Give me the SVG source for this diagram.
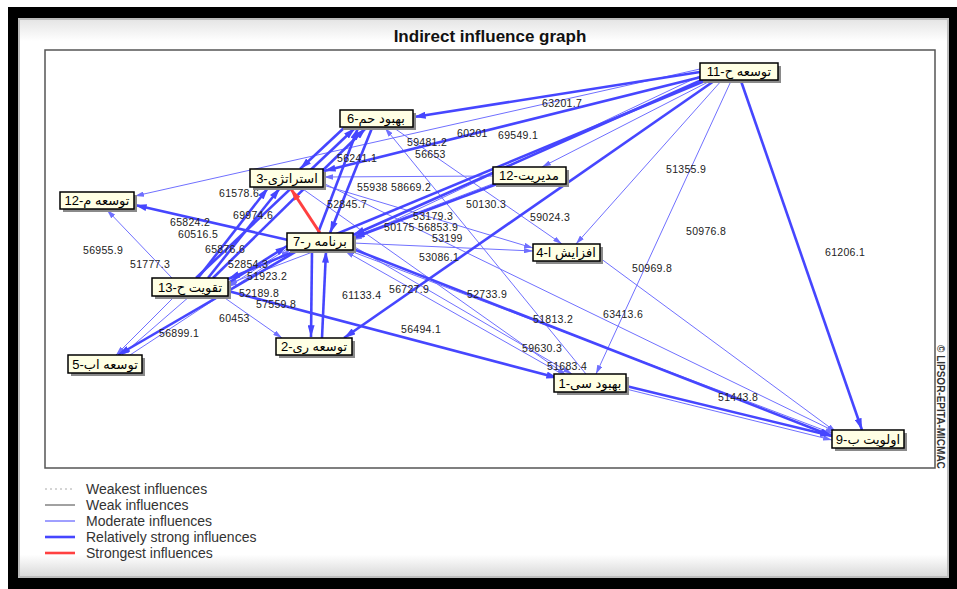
<svg xmlns="http://www.w3.org/2000/svg" width="957" height="589" viewBox="0 0 957 589">
<style>
.m{stroke:#7070ff;stroke-width:1;fill:none;marker-end:url(#am)}
.s{stroke:#4646ff;stroke-width:2.6;fill:none;marker-end:url(#as)}
.r{stroke:#ff4040;stroke-width:3;fill:none;marker-end:url(#ar)}
.el{font-family:"Liberation Sans",Arial,sans-serif;font-size:10.5px;fill:#222;letter-spacing:0.3px}
.nb{fill:#ffffe4;stroke:#000;stroke-width:1.5}
.sh{fill:#8a8a8a}
.nt{font-family:"Liberation Sans","DejaVu Sans",sans-serif;font-size:13px;fill:#000;text-anchor:middle}
.lg{font-family:"Liberation Sans",Arial,sans-serif;font-size:14px;fill:#333}
</style>
<defs>
<marker id="am" viewBox="0 0 10 6" refX="10" refY="3" markerWidth="9" markerHeight="5.4" orient="auto" markerUnits="userSpaceOnUse"><path d="M0,0 L10,3 L0,6 z" fill="#6f6fff"/></marker>
<marker id="as" viewBox="0 0 10 6" refX="10" refY="3" markerWidth="12" markerHeight="7" orient="auto" markerUnits="userSpaceOnUse"><path d="M0,0 L10,3 L0,6 z" fill="#4646ff"/></marker>
<marker id="ar" viewBox="0 0 10 6" refX="10" refY="3" markerWidth="12" markerHeight="7" orient="auto" markerUnits="userSpaceOnUse"><path d="M0,0 L10,3 L0,6 z" fill="#ff4040"/></marker>
<linearGradient id="pg" x1="0" y1="0" x2="0" y2="1"><stop offset="0" stop-color="#e4e4e4"/><stop offset="0.04" stop-color="#ffffff"/><stop offset="0.96" stop-color="#ffffff"/><stop offset="1" stop-color="#d8d8d8"/></linearGradient>
</defs>
<rect width="957" height="589" fill="#ffffff"/>
<rect x="8" y="7" width="949" height="582" fill="#000"/>
<rect x="19" y="19" width="929" height="558" fill="url(#pg)" stroke="#bdbdbd" stroke-width="2"/>
<text x="490" y="42" text-anchor="middle" font-family="Liberation Sans,Arial,sans-serif" font-size="17" font-weight="bold" fill="#111">Indirect influence graph</text>
<rect x="45" y="50" width="890" height="418" fill="#fff" stroke="#555" stroke-width="1.5"/>
<text transform="translate(937,345) rotate(90)" font-family="Liberation Sans,Arial,sans-serif" font-size="10" font-weight="bold" fill="#333">© LIPSOR-EPITA-MICMAC</text>

<g id="connectors">
<path class="m" d="M700,69 L135,196"/>
<path class="m" d="M712,80 L542,167"/>
<path class="m" d="M722,80 L576,244"/>
<path class="m" d="M731,81 L596,374"/>
<path class="m" d="M702,75 L353,240"/>
<path class="m" d="M493,176 L324,177"/>
<path class="m" d="M495,183 L228,284"/>
<path class="m" d="M394,128 L562,244"/>
<path class="m" d="M586,374 L385,128"/>
<path class="m" d="M323,185 L533,248"/>
<path class="m" d="M323,183 L836,432"/>
<path class="m" d="M300,187 L566,375"/>
<path class="m" d="M353,243 L533,251"/>
<path class="m" d="M353,246 L572,374"/>
<path class="m" d="M562,374 L345,251"/>
<path class="m" d="M290,247 L228,287"/>
<path class="m" d="M172,278 L107,210"/>
<path class="m" d="M175,296 L116,355"/>
<path class="m" d="M190,296 L122,355"/>
<path class="m" d="M222,296 L282,338"/>
<path class="m" d="M626,389 L832,440"/>
<path class="m" d="M600,258 L836,432"/>
<path class="m" d="M353,252 L834,434"/>
<path class="m" d="M130,355 L290,250"/>
<path class="s" d="M700,72 L414,117"/>
<path class="s" d="M701,77 L324,171"/>
<path class="s" d="M704,79 L353,235"/>
<path class="s" d="M707,80 L228,279"/>
<path class="s" d="M714,81 L344,338"/>
<path class="s" d="M741,81 L862,430"/>
<path class="s" d="M497,184 L353,238"/>
<path class="s" d="M288,240 L135,205"/>
<path class="s" d="M318,233 L358,128"/>
<path class="s" d="M372,128 L330,233"/>
<path class="s" d="M312,251 L311,337"/>
<path class="s" d="M322,338 L326,251"/>
<path class="s" d="M353,249 L832,436"/>
<path class="s" d="M297,251 L118,355"/>
<path class="s" d="M198,278 L268,188"/>
<path class="s" d="M208,278 L280,188"/>
<path class="s" d="M196,278 L355,128"/>
<path class="s" d="M213,278 L366,128"/>
<path class="s" d="M228,283 L287,246"/>
<path class="s" d="M228,291 L558,378"/>
<path class="s" d="M626,386 L832,436"/>
<path class="s" d="M345,127 L300,169"/>
<path class="r" d="M320,233 L291,189"/>
<g class="el">
<text x="542" y="107">63201.7</text>
<text x="457" y="137">60201</text>
<text x="498" y="139">69549.1</text>
<text x="407" y="146">59481.2</text>
<text x="415" y="158">56653</text>
<text x="337" y="162">56241.1</text>
<text x="357" y="191">55938</text>
<text x="391" y="191">58669.2</text>
<text x="466" y="208">50130.3</text>
<text x="530" y="221">59024.3</text>
<text x="413" y="220">53179.3</text>
<text x="384" y="231">50175</text>
<text x="418" y="231">56853.9</text>
<text x="432" y="242">53199</text>
<text x="327" y="208">52845.7</text>
<text x="219" y="197">61578.6</text>
<text x="233" y="219">69974.6</text>
<text x="170" y="226">65824.2</text>
<text x="178" y="238">60516.5</text>
<text x="83" y="254">56955.9</text>
<text x="205" y="253">65876.6</text>
<text x="130" y="268">51777.3</text>
<text x="228" y="268">52854.3</text>
<text x="247" y="280">51923.2</text>
<text x="239" y="297">52189.8</text>
<text x="256" y="308">57559.8</text>
<text x="219" y="322">60453</text>
<text x="159" y="337">56899.1</text>
<text x="342" y="299">61133.4</text>
<text x="389" y="293">56727.9</text>
<text x="467" y="298">52733.9</text>
<text x="419" y="261">53086.1</text>
<text x="401" y="333">56494.1</text>
<text x="533" y="323">51813.2</text>
<text x="603" y="318">63413.6</text>
<text x="522" y="352">59630.3</text>
<text x="547" y="370">51683.4</text>
<text x="632" y="272">50969.8</text>
<text x="666" y="173">51355.9</text>
<text x="686" y="235">50976.8</text>
<text x="825" y="256">61206.1</text>
<text x="718" y="401">51443.8</text>
</g>
</g>

<g id="node-11"><rect class="sh" x="703" y="66" width="78" height="17"/><rect class="nb" x="700" y="63" width="78" height="17"/><text class="nt" x="739" y="76" direction="rtl">توسعه ح-11</text></g>
<g id="node-6"><rect class="sh" x="343" y="113" width="73" height="17"/><rect class="nb" x="340" y="110" width="73" height="17"/><text class="nt" x="376" y="123" direction="rtl">بهبود حم-6</text></g>
<g id="node-3"><rect class="sh" x="253" y="172" width="73" height="18"/><rect class="nb" x="250" y="169" width="73" height="18"/><text class="nt" x="287" y="183" direction="rtl">استراتژی-3</text></g>
<g id="node-12m"><rect class="sh" x="496" y="170" width="73" height="17"/><rect class="nb" x="493" y="167" width="73" height="17"/><text class="nt" x="529" y="180" direction="rtl">مدیریت-12</text></g>
<g id="node-12"><rect class="sh" x="63" y="195" width="74" height="17"/><rect class="nb" x="60" y="192" width="74" height="17"/><text class="nt" x="97" y="205" direction="rtl">توسعه م-12</text></g>
<g id="node-7"><rect class="sh" x="290" y="236" width="66" height="17"/><rect class="nb" x="287" y="233" width="66" height="17"/><text class="nt" x="320" y="246" direction="rtl">برنامه ر-7</text></g>
<g id="node-4"><rect class="sh" x="536" y="247" width="67" height="17"/><rect class="nb" x="533" y="244" width="67" height="17"/><text class="nt" x="566" y="257" direction="rtl">افزایش ا-4</text></g>
<g id="node-13"><rect class="sh" x="155" y="281" width="76" height="18"/><rect class="nb" x="152" y="278" width="76" height="18"/><text class="nt" x="190" y="292" direction="rtl">تقویت ح-13</text></g>
<g id="node-2"><rect class="sh" x="279" y="341" width="76" height="17"/><rect class="nb" x="276" y="338" width="76" height="17"/><text class="nt" x="314" y="351" direction="rtl">توسعه ری-2</text></g>
<g id="node-5"><rect class="sh" x="71" y="358" width="74" height="18"/><rect class="nb" x="68" y="355" width="74" height="18"/><text class="nt" x="105" y="369" direction="rtl">توسعه اب-5</text></g>
<g id="node-1"><rect class="sh" x="557" y="377" width="72" height="18"/><rect class="nb" x="554" y="374" width="72" height="18"/><text class="nt" x="590" y="388" direction="rtl">بهبود سی-1</text></g>
<g id="node-9"><rect class="sh" x="835" y="433" width="72" height="18"/><rect class="nb" x="832" y="430" width="72" height="18"/><text class="nt" x="868" y="444" direction="rtl">اولویت ب-9</text></g>

<g id="legend">
<line x1="45" y1="489" x2="75" y2="489" stroke="#aaa" stroke-width="1" stroke-dasharray="2,3"/>
<line x1="45" y1="505" x2="75" y2="505" stroke="#444" stroke-width="1"/>
<line x1="45" y1="521" x2="75" y2="521" stroke="#4040ff" stroke-width="1"/>
<line x1="45" y1="537" x2="75" y2="537" stroke="#4646ff" stroke-width="2.6"/>
<line x1="45" y1="553" x2="75" y2="553" stroke="#ff4040" stroke-width="2.6"/>
<text class="lg" x="86" y="494">Weakest influences</text>
<text class="lg" x="86" y="510">Weak influences</text>
<text class="lg" x="86" y="526">Moderate influences</text>
<text class="lg" x="86" y="542">Relatively strong influences</text>
<text class="lg" x="86" y="558">Strongest influences</text>
</g>
</svg>
